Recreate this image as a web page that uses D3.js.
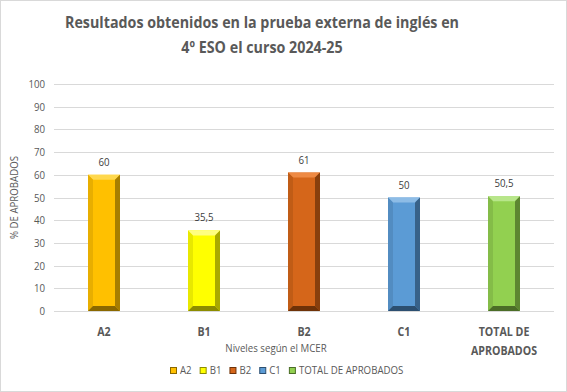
<!DOCTYPE html>
<html lang="es">
<head>
<meta charset="utf-8">
<title>Resultados prueba externa</title>
<script src="https://cdn.jsdelivr.net/npm/d3@7"></script>
<style>
  body { margin: 0; background: #fff; }
  svg { display: block; font-family: 'Open Sans', 'Liberation Sans', sans-serif; }
</style>
</head>
<body>
<svg></svg>
<script>
    const categories = ['A2', 'B1', 'B2', 'C1', 'TOTAL DE APROBADOS'];
    const values = [60, 35.5, 61, 50, 50.5];
    const valueLabels = ['60', '35,5', '61', '50', '50,5'];
    const yTicks = [0, 10, 20, 30, 40, 50, 60, 70, 80, 90, 100];

    // face, light side, dark side
    const palette = [
        ['#FFC000', '#FFD84D', '#8A6800'],
        ['#FFFF00', '#FFFF80', '#8C8C00'],
        ['#D5661A', '#EE8A44', '#6E3208'],
        ['#5B9BD5', '#8DBCE6', '#2C4F70'],
        ['#92D050', '#B8E68A', '#4B6D27']
    ];

    const W = 567, H = 392;
    const m = { left: 54, right: 13, top: 84, bottom: 81 };
    const narrow = 0.88;   // Open Sans is wider than the original Calibri

    const svg = d3.select('svg').attr('width', W).attr('height', H);

    // squeeze a text node horizontally to mimic a narrower font
    function squeeze(node, f) {
        const w = node.getComputedTextLength();
        d3.select(node).attr('textLength', w * f).attr('lengthAdjust', 'spacingAndGlyphs');
        return w * f;
    }
    // squeeze and center on cx, anchoring at start to avoid anchor drift
    function squeezeCenter(node, f, cx) {
        const w = squeeze(node, f);
        d3.select(node).attr('text-anchor', 'start').attr('x', cx - w / 2);
    }

    svg.append('rect')
        .attr('x', 0.5).attr('y', 0.5)
        .attr('width', W - 1).attr('height', H - 1)
        .attr('fill', '#fff').attr('stroke', '#D9D9D9');

    const x = d3.scaleBand()
        .domain(categories)
        .range([m.left, W - m.right])
        .paddingInner(0.68).paddingOuter(0.34);

    const y = d3.scaleLinear().domain([0, 100]).range([H - m.bottom, m.top]);

    // gridlines
    svg.append('g')
        .selectAll('line')
        .data(yTicks)
        .enter().append('line')
        .attr('x1', m.left).attr('x2', W - m.right)
        .attr('y1', d => Math.round(y(d)) + 0.5).attr('y2', d => Math.round(y(d)) + 0.5)
        .attr('stroke', '#D9D9D9');

    // y axis labels
    const yAxis = svg.append('g')
        .attr('transform', `translate(${m.left},0)`)
        .call(d3.axisLeft(y).tickValues(yTicks).tickSize(0).tickPadding(9));
    yAxis.select('.domain').remove();
    yAxis.selectAll('text').attr('fill', '#595959').style('font-size', '11px')
        .style('font-family', "'Open Sans', sans-serif")
        .each(function () {
            const w = squeeze(this, narrow);
            d3.select(this).attr('text-anchor', 'start').attr('x', -9 - w);
        });

    // bars with bevel
    const bev = 5;
    const bars = svg.append('g').selectAll('g')
        .data(categories)
        .enter().append('g');

    bars.each(function (c, i) {
        const g = d3.select(this);
        const x0 = x(c), x1 = x(c) + x.bandwidth();
        const y0 = y(values[i]), y1 = y(0);
        const col = palette[i];
        g.append('rect').attr('x', x0).attr('y', y0)
            .attr('width', x1 - x0).attr('height', y1 - y0).attr('fill', col[0]);
        // top
        g.append('polygon').attr('fill', col[1])
            .attr('points', [[x0, y0], [x1, y0], [x1 - bev, y0 + bev], [x0 + bev, y0 + bev]].join(' '));
        // left
        g.append('polygon').attr('fill', d3.interpolateRgb(col[0], col[2])(0.2))
            .attr('points', [[x0, y0], [x0 + bev, y0 + bev], [x0 + bev, y1 - bev], [x0, y1]].join(' '));
        // right
        g.append('polygon').attr('fill', d3.interpolateRgb(col[0], col[2])(0.75))
            .attr('points', [[x1, y0], [x1, y1], [x1 - bev, y1 - bev], [x1 - bev, y0 + bev]].join(' '));
        // bottom
        g.append('polygon').attr('fill', col[2])
            .attr('points', [[x0, y1], [x0 + bev, y1 - bev], [x1 - bev, y1 - bev], [x1, y1]].join(' '));
        // value label
        const t = g.append('text')
            .attr('y', y0 - 9)
            .attr('fill', '#404040').style('font-size', '11px')
            .text(valueLabels[i]);
        squeezeCenter(t.node(), narrow, (x0 + x1) / 2);
    });

    // category labels
    svg.append('g').selectAll('text')
        .data(categories)
        .enter().append('text')
        .attr('y', 336)
        .attr('fill', '#595959')
        .style('font-size', '12.5px').style('font-weight', 'bold')
        .each(function (d) {
            const t = d3.select(this);
            const lines = d === 'TOTAL DE APROBADOS' ? ['TOTAL DE', 'APROBADOS'] : [d];
            lines.forEach((l, k) => {
                const ts = t.append('tspan')
                    .attr('dy', k === 0 ? 0 : 19).text(l);
                squeezeCenter(ts.node(), 0.85, x(d) + x.bandwidth() / 2);
            });
        });

    // axis titles
    const xt = svg.append('text')
        .attr('y', 352)
        .attr('fill', '#595959').style('font-size', '11px')
        .text('Niveles según el MCER');
    squeezeCenter(xt.node(), narrow, 276);

    const yt = svg.append('text')
        .attr('transform', `translate(18,${(y(0) + y(100)) / 2}) rotate(-90)`)
        .attr('fill', '#595959').style('font-size', '11px')
        .text('% DE APROBADOS');
    squeezeCenter(yt.node(), narrow, 0);

    // title
    const titleLines = ['Resultados obtenidos en la prueba externa de inglés en', '4º ESO el curso 2024-25'];
    const tNodes = titleLines.map((l, k) => svg.append('text')
        .attr('y', 28 + k * 25)
        .attr('fill', '#595959')
        .style('font-size', '16.5px').style('font-weight', 'bold')
        .text(l).node());
    const tf = 394 / tNodes[0].getComputedTextLength();
    tNodes.forEach(n => squeezeCenter(n, tf, 262));

    // legend
    const legend = svg.append('g').attr('transform', 'translate(170,371)');
    let lx = 0;
    categories.forEach((c, i) => {
        const item = legend.append('g').attr('transform', `translate(${lx},0)`);
        item.append('rect').attr('x', 0.5).attr('y', -3.5).attr('width', 6).attr('height', 6)
            .attr('fill', palette[i][0]).attr('stroke', palette[i][2]).attr('stroke-width', 1);
        const t = item.append('text').attr('x', 10).attr('y', 0)
            .attr('dominant-baseline', 'middle')
            .attr('fill', '#595959').style('font-size', '11px')
            .text(c);
        lx += 10 + squeeze(t.node(), narrow) + 8;
    });
</script>
</body>
</html>
